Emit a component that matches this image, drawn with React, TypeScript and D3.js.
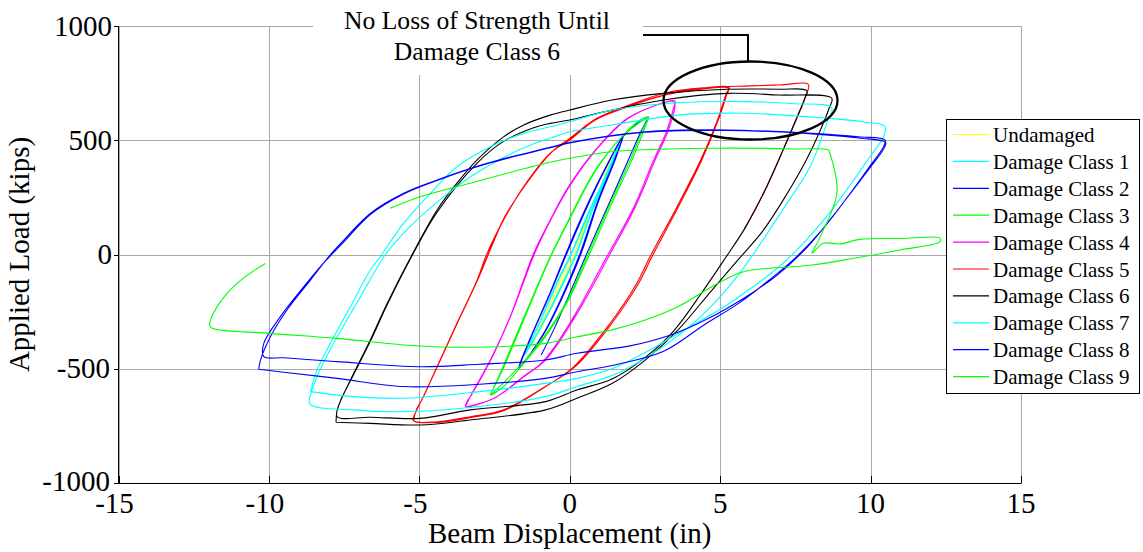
import React from "react";
import * as d3 from "d3";

type P = [number, number];

const xTicks = [-15, -10, -5, 0, 5, 10, 15];
const yTicks = [-1000, -500, 0, 500, 1000];

const seriesNames = [
  "Undamaged",
  "Damage Class 1",
  "Damage Class 2",
  "Damage Class 3",
  "Damage Class 4",
  "Damage Class 5",
  "Damage Class 6",
  "Damage Class 7",
  "Damage Class 8",
  "Damage Class 9",
];
const seriesColors = [
  "#ffff00", "#00ffff", "#0000ff", "#00ff00", "#ff00ff",
  "#ff0000", "#000000", "#00ffff", "#0000ff", "#00ff00",
];

const undamaged: P[] = [[-1.3,-400],[-0.9,-290],[-0.4,-140],[0.05,0],[0.55,150],[1.0,290],[1.4,430],[1.15,340],[0.65,180],[0.15,0],[-0.35,-150],[-0.85,-290],[-1.3,-400]];

const class1: P[] = [[-1.5,-440],[-1.0,-300],[-0.4,-120],[0.05,0],[0.6,170],[1.2,340],[1.65,482],[1.3,360],[0.75,190],[0.22,0],[-0.35,-165],[-0.9,-305],[-1.5,-440],[-1.0,-295],[-0.42,-118],[0.03,0],[0.58,172],[1.18,342],[1.63,480],[1.28,358],[0.72,188],[0.2,0],[-0.38,-165],[-0.92,-306],[-1.48,-438]];

const class2: P[] = [[-1.7,-498],[-1.3,-365],[-0.7,-185],[-0.12,0],[0.5,190],[1.1,355],[1.79,523],[1.5,415],[0.95,235],[0.35,0],[-0.3,-200],[-0.9,-355],[-1.68,-495],[-1.28,-360],[-0.68,-180],[-0.1,5],[0.52,195],[1.12,360],[1.77,520],[1.48,412],[0.93,232],[0.33,0],[-0.32,-202],[-0.92,-357],[-1.7,-498],[-1.3,-362],[-0.7,-182],[-0.14,0],[0.48,188],[1.08,352],[1.78,522],[1.52,418],[0.97,238],[0.37,2],[-0.28,-198],[-0.88,-352],[-1.7,-498],[-1.25,-350],[-0.65,-170],[-0.08,10],[0.55,200],[1.15,365],[1.8,520],[2.2,570],[2.56,596],[2.3,520],[1.6,310],[0.57,5],[0.0,-170],[-0.5,-320],[-0.95,-440]];

const class3: P[] = [[-2.64,-615],[-2.31,-520],[-1.75,-345],[-1.09,-141],[-0.65,-10],[-0.15,122],[0.85,370],[1.73,515],[2.3,585],[2.62,603],[2.51,559],[2.07,414],[1.4,224],[0.62,-10],[-0.04,-199],[-0.81,-360],[-1.53,-476],[-2.2,-578],[-2.64,-615],[-2.55,-590],[-2.25,-510],[-1.7,-340],[-1.05,-135],[-0.6,0],[-0.1,130],[0.9,375],[1.78,520],[2.6,598],[2.45,555],[2.0,410],[1.33,220],[0.55,-15],[-0.1,-205],[-0.88,-365],[-1.6,-480],[-2.6,-612]];

const class4: P[] = [[-3.47,-666],[-3.31,-622],[-2.64,-462],[-1.98,-272],[-1.2,5],[-0.65,151],[-0.04,297],[0.85,457],[1.84,589],[2.73,647],[3.45,669],[3.5,654],[3.28,545],[2.84,414],[2.18,209],[1.29,-10],[0.18,-272],[-0.81,-462],[-1.53,-535],[-2.42,-622],[-3.31,-666],[-3.47,-666],[-3.4,-640],[-3.25,-610],[-2.6,-455],[-1.95,-265],[-1.15,10],[-0.6,160],[0,300],[0.9,462],[1.9,592],[2.8,650],[3.5,672],[3.45,640],[3.22,540],[2.78,410],[2.12,205],[1.23,-10],[0.12,-275],[-0.87,-465],[-1.6,-540],[-2.5,-628],[-3.45,-668]];

const class5: P[] = [[-5.19,-724],[-5.1,-680],[-4.86,-622],[-4.41,-491],[-3.75,-301],[-3.08,-112],[-2.75,5],[-2.2,151],[-1.53,297],[-0.65,443],[0,501],[0.85,589],[1.95,647],[3.17,698],[4.17,720],[5.28,727],[5.22,700],[4.94,589],[4.39,414],[3.61,209],[2.73,-10],[2.29,-126],[1.4,-301],[0.18,-491],[-0.81,-578],[-2.2,-680],[-3.31,-710],[-4.41,-732],[-5.19,-728],[-5.12,-690],[-4.85,-618],[-4.4,-488],[-3.74,-298],[-3.06,-108],[-2.2,155],[-1.5,300],[-0.62,446],[0,505],[0.87,592],[1.97,650],[3.2,700],[4.2,724],[5.3,732],[5.2,703],[4.9,585],[4.34,410],[3.55,205],[2.66,-12],[2.22,-128],[1.33,-303],[0.12,-493],[-0.85,-582],[-2.2,-684],[-3.31,-714],[-4.41,-735],[-5.2,-726],[-5.1,-685],[-4.84,-615],[-4.38,-485],[-3.72,-295],[-3.04,-105],[-2.18,158],[-1.48,303],[-0.6,448],[0,508],[0.9,596],[2.0,655],[3.2,708],[4.5,730],[6.0,738],[7.0,742],[7.93,745],[7.84,690],[7.58,605],[7.1,460],[6.45,270],[5.8,110]];

const class6: P[] = [[-7.77,-734],[-7.73,-680],[-7.63,-644],[-7.29,-549],[-6.63,-374],[-6.07,-214],[-5.19,12],[-4.41,195],[-3.75,312],[-3.08,414],[-2.2,515],[-1.53,567],[-0.65,610],[0,632],[1.4,676],[3.12,705],[5.22,723],[6.94,723],[7.88,717],[7.8,680],[7.55,600],[7.1,460],[6.45,270],[5.8,110],[5.2,-10],[4.4,-165],[3.45,-335],[2.51,-450],[1.4,-545],[0.24,-593],[-0.8,-644],[-3.31,-680],[-4.97,-717],[-6.63,-712],[-7.73,-710],[-7.65,-650],[-7.3,-555],[-6.63,-380],[-6.07,-220],[-5.2,5],[-4.41,185],[-3.08,400],[-2.2,495],[-1.2,555],[-0.65,574],[0,589],[1.4,632],[3.12,676],[5.22,705],[6.94,698],[8.71,684],[8.62,640],[8.35,550],[7.85,410],[7.15,250],[6.4,100],[5.65,-15],[4.7,-160],[3.6,-330],[2.51,-462],[1.4,-565],[0.24,-629],[-0.8,-680],[-3.31,-724],[-4.97,-746],[-6.63,-739],[-7.77,-734]];

const class7: P[] = [[-8.62,-600],[-8.4,-505],[-7.96,-389],[-7.29,-228],[-6.63,-68],[-6.3,-10],[-5.52,137],[-4.63,268],[-3.75,384],[-2.64,472],[-1.53,530],[-0.65,559],[0,581],[1.4,632],[3.61,664],[5.83,669],[7.5,660],[8.71,642],[8.54,574],[7.99,384],[7.1,200],[6.3,40],[5.6,-90],[4.6,-240],[3.6,-355],[2.5,-455],[1.4,-530],[0.24,-578],[-0.81,-622],[-3,-665],[-5.52,-688],[-7.2,-680],[-8.64,-654],[-8.58,-600],[-8.35,-520],[-7.9,-400],[-7.2,-240],[-6.5,-80],[-6.13,0],[-5.4,110],[-4.4,230],[-3.3,340],[-2.2,425],[-1.2,485],[-0.65,509],[0,537],[1.4,567],[3.61,610],[5.83,618],[8.6,596],[9.8,580],[10.48,560],[10.43,515],[9.98,428],[9.3,300],[8.5,160],[7.7,40],[6.9,-60],[6.0,-150],[5.0,-240],[3.8,-330],[2.5,-430],[1.4,-500],[0.24,-542],[-0.81,-564],[-3,-600],[-5.52,-629],[-7.2,-622],[-8.62,-600]];

const class8: P[] = [[-10.34,-502],[-10.28,-462],[-9.95,-360],[-9.4,-243],[-8.62,-112],[-7.96,-2],[-7.51,63],[-6.63,180],[-5.52,268],[-4.41,326],[-2.75,399],[-0.65,469],[0,490],[2.51,537],[5.22,545],[8.05,530],[9.6,515],[10.48,501],[10.42,470],[10.05,400],[9.45,290],[8.7,160],[7.95,40],[6.9,-90],[5.8,-190],[4.6,-280],[3.4,-350],[2.0,-400],[0.24,-432],[-0.81,-462],[-3,-480],[-4.97,-491],[-7.73,-469],[-9.5,-452],[-10.17,-447],[-10.17,-389],[-9.62,-272],[-8.84,-141],[-8.2,-40],[-7.51,55],[-6.63,175],[-5.52,265],[-4.41,324],[-2.75,397],[-0.65,467],[0,488],[2.51,535],[5.22,543],[8.05,528],[9.6,510],[10.5,490],[10.4,455],[9.95,375],[9.2,245],[8.4,110],[7.5,-15],[6.6,-115],[5.6,-215],[4.5,-305],[3.1,-425],[1.6,-480],[0.24,-513],[-0.81,-542],[-3,-568],[-5.52,-578],[-7.73,-542],[-9.5,-515],[-10.34,-502]];

const class9: P[] = [[-5.97,202],[-4.97,253],[-3.31,312],[-0.81,399],[0,421],[1.4,450],[4.72,465],[7.5,462],[8.6,457],[8.65,443],[8.88,268],[8.27,63],[8.05,5],[8.43,49],[8.98,46],[9.65,66],[11.0,70],[12.31,71],[12.3,55],[10.98,20],[9.5,-15],[8.05,-46],[6.05,-68],[5.61,-82],[4.72,-141],[3.61,-228],[2.51,-287],[1.4,-330],[0.24,-360],[-0.81,-389],[-3.53,-406],[-5.52,-396],[-7.73,-367],[-9.95,-345],[-11.89,-323],[-11.97,-309],[-11.72,-228],[-11.06,-126],[-10.12,-39]];

const seriesData: P[][] = [undamaged, class1, class2, class3, class4, class5, class6, class7, class8, class9];

const annotationLines = ["No Loss of Strength Until", "Damage Class 6"];

const W = 1143;
const H = 552;
const FONT = "'Liberation Serif', 'Times New Roman', serif";

export default function App() {
  const x = d3.scaleLinear().domain([-15, 15]).range([118.5, 1021]);
  const y = d3.scaleLinear().domain([-1000, 1000]).range([483, 26]);
  const line = d3
    .line<P>()
    .x((d) => x(d[0]))
    .y((d) => y(d[1]))
    .curve(d3.curveCatmullRom.alpha(0.5));

  const left = x(-15);
  const right = x(15);
  const top = y(1000);
  const bottom = y(-1000);

  const legX = 946.5;
  const legY = 119.5;
  const legW = 193;
  const legH = 274;
  const legRow = 26.9;

  return (
    <svg
      width={W}
      height={H}
      style={{ position: "absolute", left: 0, top: 0, background: "#fff", fontFamily: FONT }}
    >
      <rect x={0} y={0} width={W} height={H} fill="#fff" />
      {xTicks.map((t) => (
        <line key={"gx" + t} x1={Math.round(x(t)) + 0.5} x2={Math.round(x(t)) + 0.5} y1={top} y2={bottom} stroke="#a8a8a8" strokeWidth={1} />
      ))}
      {yTicks.map((t) => (
        <line key={"gy" + t} x1={left} x2={right} y1={Math.round(y(t)) + 0.5} y2={Math.round(y(t)) + 0.5} stroke="#a8a8a8" strokeWidth={1} />
      ))}
      {seriesData.map((d, i) => (
        <path key={"s" + i} d={line(d) || ""} fill="none" stroke={seriesColors[i]} strokeWidth={1.1} strokeLinejoin="round" />
      ))}
      <line x1={118.5} x2={118.5} y1={top} y2={bottom + 0.5} stroke="#000" strokeWidth={1} />
      <line x1={118} x2={right + 0.5} y1={483.5} y2={483.5} stroke="#000" strokeWidth={1} />
      {xTicks.map((t) => (
        <line key={"tx" + t} x1={Math.round(x(t)) + 0.5} x2={Math.round(x(t)) + 0.5} y1={483} y2={476} stroke="#000" strokeWidth={1} />
      ))}
      {yTicks.map((t) => (
        <line key={"ty" + t} x1={114} x2={119} y1={Math.round(y(t)) + 0.5} y2={Math.round(y(t)) + 0.5} stroke="#000" strokeWidth={1} />
      ))}
      {xTicks.map((t) => (
        <text key={"lx" + t} x={x(t) + (t < 0 ? -4 : 0)} y={513} textAnchor="middle" fontSize={29} fill="#000">
          {t}
        </text>
      ))}
      {yTicks.map((t) => (
        <text key={"ly" + t} x={t < 0 ? 110 : 112} y={y(t) + (t === -1000 ? 8 : 9.5)} textAnchor="end" fontSize={29} fill="#000">
          {t}
        </text>
      ))}
      <text x={(left + right) / 2} y={543} textAnchor="middle" fontSize={29} fill="#000">
        Beam Displacement (in)
      </text>
      <text transform={`translate(28.5,${(top + bottom) / 2}) rotate(-90)`} textAnchor="middle" fontSize={29} fill="#000">
        Applied Load (kips)
      </text>
      <rect x={313} y={0} width={330} height={75} fill="#fff" />
      {annotationLines.map((s, i) => (
        <text key={"an" + i} x={477} y={28.7 + i * 31.3} textAnchor="middle" fontSize={25.6} fill="#000">
          {s}
        </text>
      ))}
      <polyline points="643,35 748,35 748,62" fill="none" stroke="#000" strokeWidth={2} />
      <ellipse cx={750.5} cy={100.5} rx={87} ry={39} fill="none" stroke="#000" strokeWidth={2.3} />
      <rect x={legX} y={legY} width={legW} height={legH} fill="#fff" stroke="#000" strokeWidth={1} />
      {seriesNames.map((n, i) => {
        const cy = 134.5 + i * legRow;
        return (
          <g key={"lg" + i}>
            <line x1={953} x2={989} y1={cy} y2={cy} stroke={seriesColors[i]} strokeWidth={1.2} />
            <text x={993} y={cy + 7.5} fontSize={21} fill="#000">
              {n}
            </text>
          </g>
        );
      })}
    </svg>
  );
}
